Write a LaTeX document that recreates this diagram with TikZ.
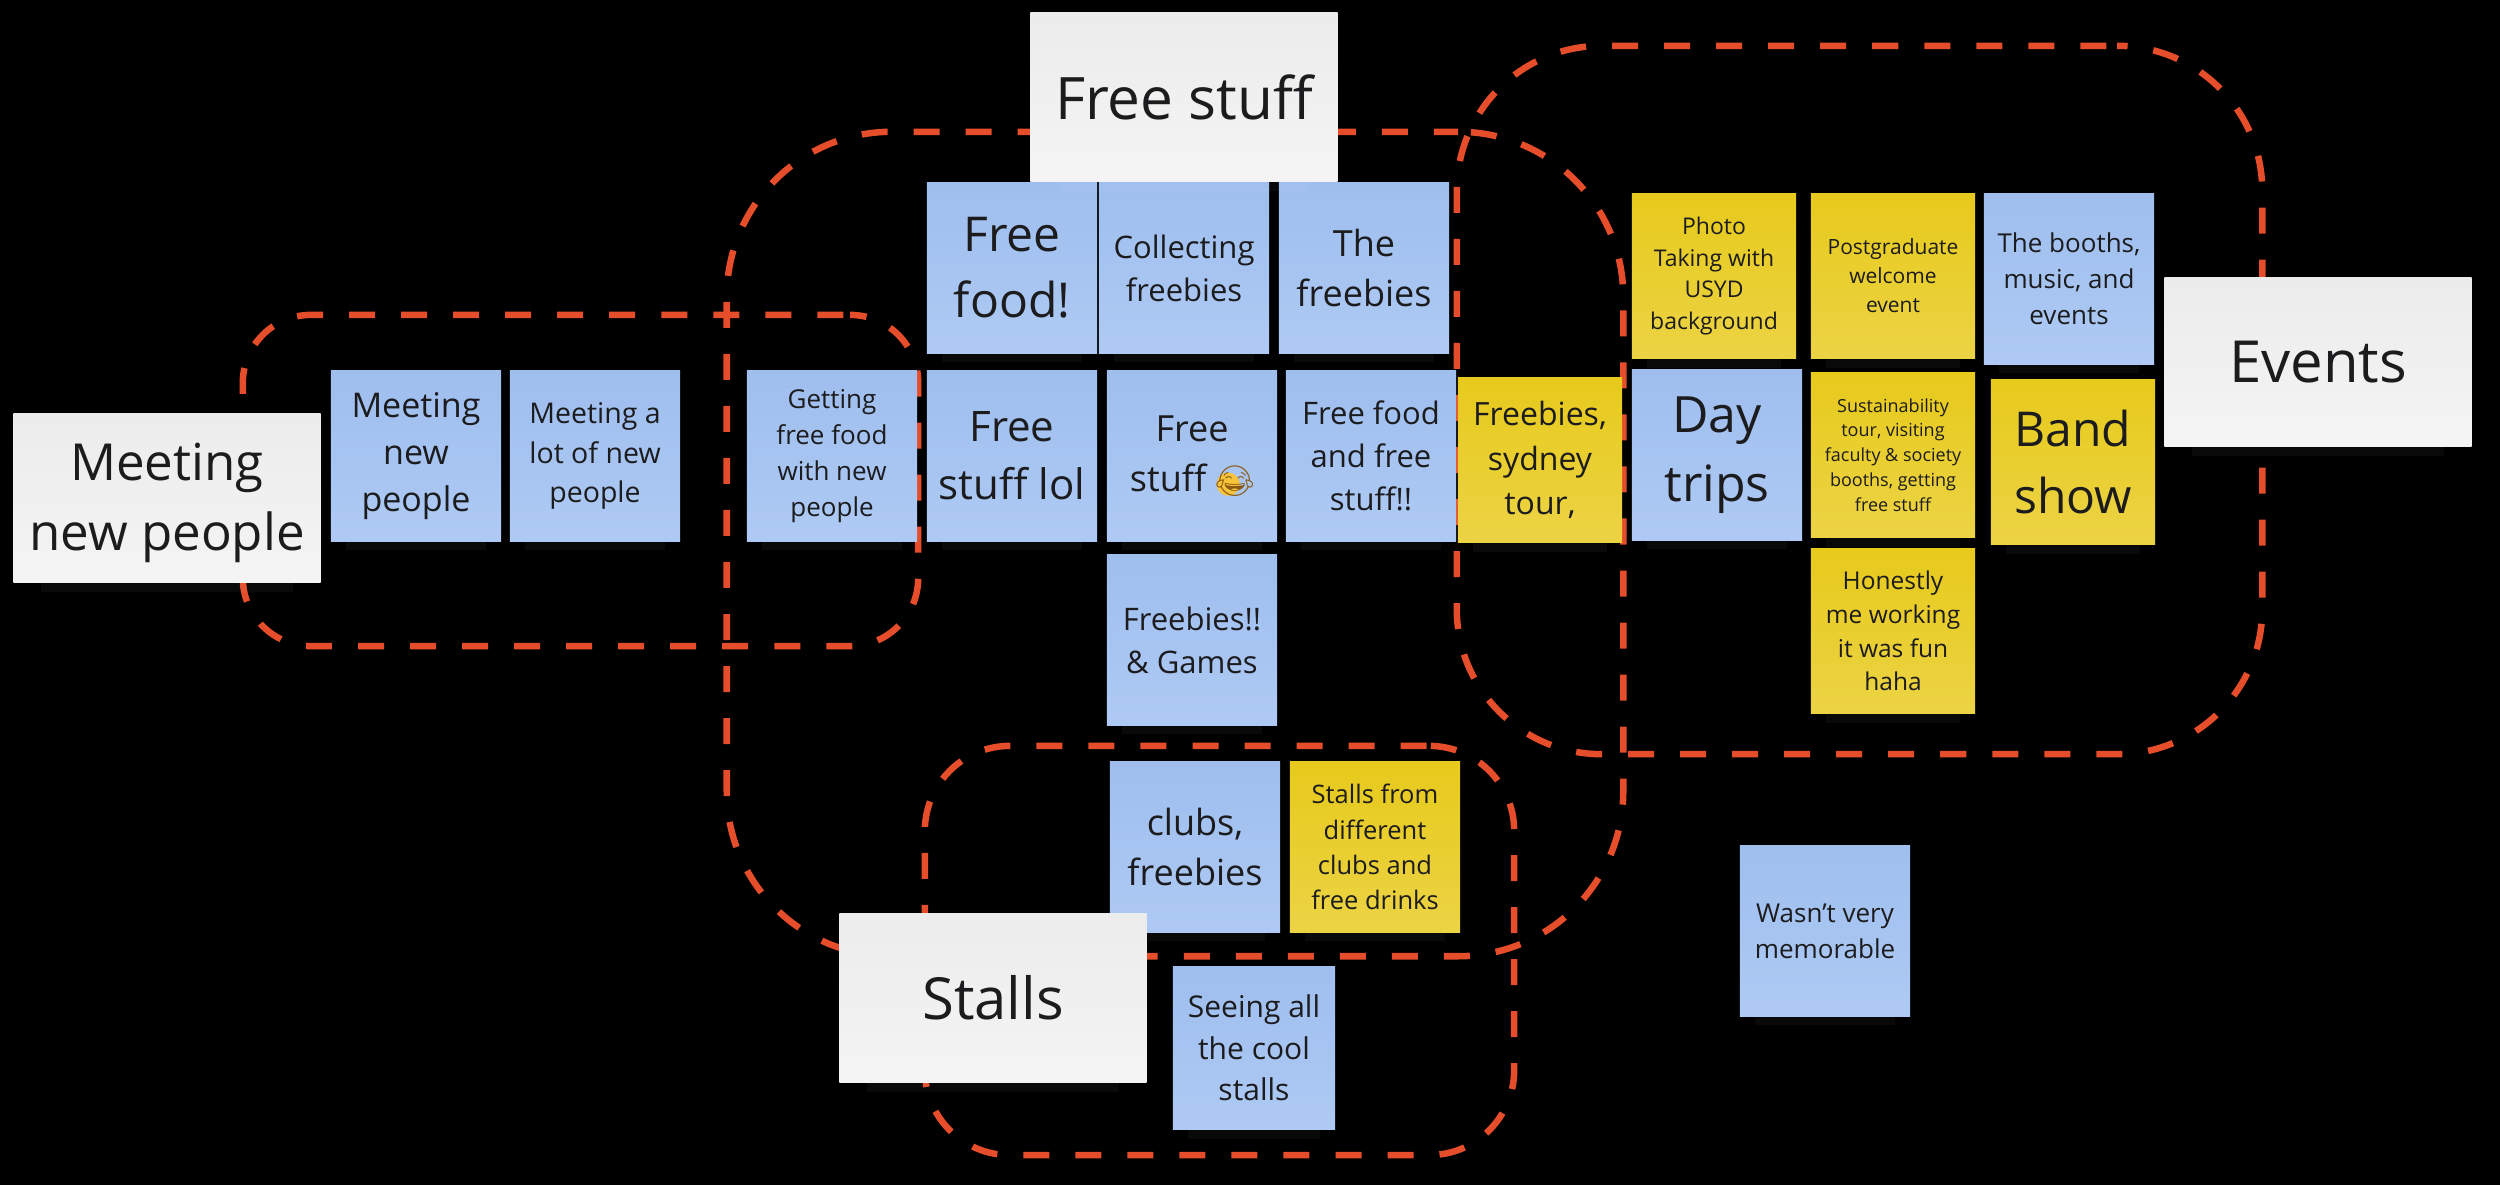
\documentclass[tikz,border=0pt]{standalone}
\usepackage{fontspec}
\usetikzlibrary{shadows}
\setmainfont{Open Sans}
\newfontfamily\emojifont{Noto Emoji}
\newfontfamily\symbolfont{DejaVu Sans}
\definecolor{blue_top}{HTML}{9FBEEE}
\definecolor{blue_low}{HTML}{AECAF4}
\definecolor{yellow_top}{HTML}{E7CA1C}
\definecolor{yellow_low}{HTML}{ECD344}
\definecolor{paper_top}{HTML}{ECECED}
\definecolor{paper_low}{HTML}{F4F4F5}
\definecolor{group_line}{HTML}{E64D2A}
\definecolor{ink}{HTML}{1C1C1E}
\definecolor{emoji_face}{HTML}{F7C33B}
\definecolor{emoji_line}{HTML}{8A5A10}
% sizes are given in reference pixels
\newcommand{\sz}[1]{\fontsize{\fpeval{#1*0.2845}}{\fpeval{#1*0.2845*1.38}}\selectfont}
\newcommand{\laugh}{{\fontsize{8.6}{8.6}\selectfont\color{emoji_face}\symbolfont\rlap{\raisebox{-0.05em}{\hspace{-0.02em}●}}}{\fontsize{8.6}{8.6}\selectfont\color{emoji_line}\emojifont 😂}}
\newcommand{\dropped}[1]{\raisebox{-0.05cm}[\height][\depth]{#1}}
\begin{document}
\begin{tikzpicture}[x=0.01cm, y=-0.01cm]
        \tikzstyle{note}       = [shape = rectangle, align = center, text = ink, inner sep = 0pt,
                                  general shadow = {shadow xshift = 0cm, shadow yshift = -0.30cm, shadow scale = 0.82, fill = white, opacity = 0.035}]
        \tikzstyle{blue_note}  = [note, top color = blue_top, bottom color = blue_low, minimum width = 1.70cm, minimum height = 1.70cm]
        \tikzstyle{gold_note}  = [note, top color = yellow_top, bottom color = yellow_low, minimum width = 1.64cm, minimum height = 1.64cm]
        \tikzstyle{title_note} = [note, top color = paper_top, bottom color = paper_low, minimum width = 3.07cm, minimum height = 1.68cm]
        \tikzstyle{group_box}  = [shape = rectangle, draw = group_line, line width = 0.065cm, dash pattern = on 0.26cm off 0.26cm]

        \useasboundingbox[fill = black] (0, 0) rectangle (2500, 1185);

        % dashed groups
        \node[group_box, dash phase = 0.452cm, rounded corners = 0.68cm, minimum width = 6.75cm, minimum height = 3.31cm] at (580.5, 480.5) (g_meeting) {};
        \node[group_box, dash phase = 0.018cm, rounded corners = 1.65cm, minimum width = 8.96cm, minimum height = 8.24cm] at (1175, 544) (g_free) {};
        \node[group_box, dash phase = 0.412cm, rounded corners = 1.45cm, minimum width = 8.05cm, minimum height = 7.08cm] at (1859.5, 400) (g_events) {};
        \node[group_box, dash phase = 0.495cm, rounded corners = 0.85cm, minimum width = 5.89cm, minimum height = 4.09cm] at (1219.5, 950.5) (g_stalls) {};

        % meeting new people
        \node[blue_note, font = \sz{34}] at (416, 456) (n_meeting) {Meeting\\new\\people};
        \node[blue_note, font = \sz{28.5}] at (595, 456) (n_lot) {Meeting a\\lot of new\\people};
        \node[blue_note, font = \sz{26}] at (832, 456) (n_getting) {Getting\\free food\\with new\\people};

        % free stuff
        \node[blue_note, font = \sz{48}] at (1012, 268) (n_food) {Free\\food!};
        \node[blue_note, font = \sz{31}] at (1184, 268) (n_collecting) {Collecting\\freebies};
        \node[blue_note, font = \sz{36}] at (1364, 268) (n_the) {The\\freebies};
        \node[blue_note, font = \sz{42}] at (1012, 456) (n_lol) {Free\\stuff lol};
        \node[blue_note, font = \sz{36}] at (1192, 456) (n_stuff) {Free\\stuff \laugh};
        \node[blue_note, font = \sz{31}] at (1371, 456) (n_both) {Free food\\and free\\stuff!!};
        \node[gold_note, font = \sz{32}] at (1540, 460) (n_sydney) {Freebies,\\sydney\\tour,};
        \node[blue_note, font = \sz{31}] at (1192, 640) (n_games) {Freebies!!\\\& Games};

        % events
        \node[gold_note, font = \sz{23}] at (1714, 276) (n_photo) {Photo\\Taking with\\USYD\\background};
        \node[gold_note, font = \sz{21}] at (1893, 276) (n_post) {Postgraduate\\welcome\\event};
        \node[blue_note, font = \sz{26}] at (2069, 279) (n_booths) {The booths,\\music, and\\events};
        \node[blue_note, font = \sz{50}] at (1717, 455) (n_day) {Day\\trips};
        \node[gold_note, font = \sz{18}] at (1893, 455) (n_tour) {Sustainability\\tour, visiting\\faculty \& society\\booths, getting\\free stuff};
        \node[gold_note, font = \sz{48}] at (2073, 462) (n_band) {Band\\show};
        \node[gold_note, font = \sz{24.5}] at (1893, 631) (n_honest) {Honestly\\me working\\it was fun\\haha};

        % stalls
        \node[blue_note, font = \sz{36}] at (1195, 847) (n_clubs) {clubs,\\freebies};
        \node[blue_note, font = \sz{25.5}, top color = yellow_top, bottom color = yellow_low] at (1375, 847) (n_drinks) {Stalls from\\different\\clubs and\\free drinks};
        \node[blue_note, font = \sz{30}, minimum width = 1.62cm, minimum height = 1.63cm] at (1254, 1048) (n_cool) {Seeing all\\the cool\\stalls};

        \node[blue_note, font = \sz{26}] at (1825, 931) (n_wasnt) {Wasn’t very\\memorable};

        % titles
        \node[title_note, font = \sz{58.5}] at (1184, 97) (t_free) {Free stuff};
        \node[title_note, font = \sz{58}] at (2318, 362) (t_events) {Events};
        \node[title_note, font = \sz{58}] at (993, 998) (t_stalls) {Stalls};
        \node[title_note, font = \sz{51}] at (167, 498) (t_meeting) {\dropped{Meeting}\\\dropped{new people}};
      \end{tikzpicture}
\end{document}
